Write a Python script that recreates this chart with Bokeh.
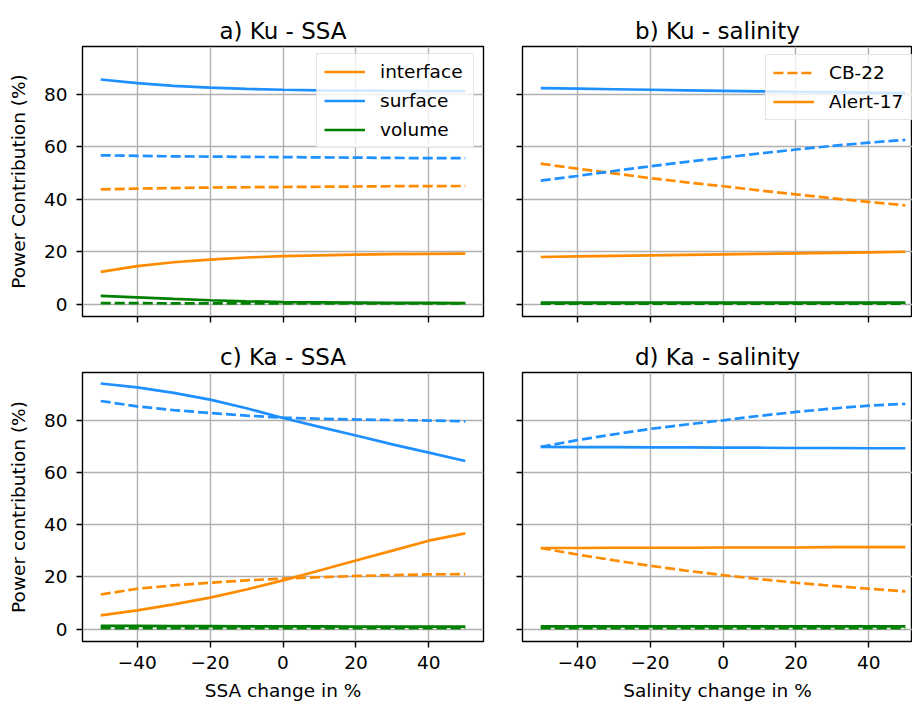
from bokeh.plotting import figure
from bokeh.layouts import column, row
from bokeh.models import Legend, LegendItem, FixedTicker, Range1d
from bokeh.embed import file_html
from bokeh.resources import INLINE

# ---------------- data ----------------
change_pct = [-50, -40, -30, -20, -10, 0, 10, 20, 30, 40, 50]

# a) Ku - SSA
ku_ssa_surface_alert = [85.7, 84.3, 83.3, 82.6, 82.1, 81.8, 81.6, 81.5, 81.4, 81.3, 81.3]
ku_ssa_surface_cb = [56.8, 56.6, 56.4, 56.3, 56.2, 56.1, 56.0, 55.9, 55.8, 55.7, 55.7]
ku_ssa_interface_cb = [43.8, 44.1, 44.3, 44.5, 44.6, 44.7, 44.8, 44.9, 45.0, 45.0, 45.1]
ku_ssa_interface_alert = [12.3, 14.5, 16.0, 17.0, 17.8, 18.3, 18.6, 18.9, 19.1, 19.2, 19.3]
ku_ssa_volume_alert = [3.2, 2.6, 2.0, 1.5, 1.1, 0.8, 0.7, 0.6, 0.5, 0.5, 0.4]
ku_ssa_volume_cb = [0.4, 0.4, 0.3, 0.3, 0.3, 0.3, 0.3, 0.3, 0.3, 0.3, 0.3]

# b) Ku - salinity
ku_sal_surface_alert = [82.4, 82.2, 82.0, 81.8, 81.6, 81.4, 81.2, 81.0, 80.9, 80.7, 80.5]
ku_sal_surface_cb = [47.1, 48.9, 50.8, 52.6, 54.3, 55.9, 57.5, 59.0, 60.4, 61.6, 62.7]
ku_sal_interface_cb = [53.6, 51.7, 49.9, 48.1, 46.5, 45.0, 43.4, 41.9, 40.4, 39.0, 37.7]
ku_sal_interface_alert = [18.0, 18.2, 18.4, 18.6, 18.8, 19.0, 19.2, 19.4, 19.6, 19.8, 20.0]
ku_sal_volume_alert = [0.6, 0.6, 0.6, 0.6, 0.6, 0.6, 0.6, 0.6, 0.6, 0.6, 0.6]
ku_sal_volume_cb = [0.2, 0.2, 0.2, 0.2, 0.2, 0.2, 0.2, 0.2, 0.2, 0.2, 0.2]

# c) Ka - SSA
ka_ssa_surface_alert = [94.1, 92.6, 90.5, 87.9, 84.6, 80.9, 77.5, 74.2, 70.8, 67.6, 64.4]
ka_ssa_surface_cb = [87.4, 85.3, 83.9, 82.8, 81.8, 81.0, 80.6, 80.3, 80.1, 79.9, 79.6]
ka_ssa_interface_alert = [5.3, 7.2, 9.5, 12.1, 15.2, 18.7, 22.5, 26.3, 30.1, 33.9, 36.7]
ka_ssa_interface_cb = [13.3, 15.5, 16.8, 17.8, 18.7, 19.4, 19.9, 20.4, 20.7, 21.0, 21.1]
ka_ssa_volume_alert = [1.3, 1.3, 1.2, 1.2, 1.1, 1.1, 1.1, 1.0, 1.0, 1.0, 1.0]
ka_ssa_volume_cb = [0.4, 0.4, 0.4, 0.4, 0.4, 0.4, 0.4, 0.4, 0.4, 0.4, 0.4]

# d) Ka - salinity
ka_sal_surface_alert = [69.8, 69.7, 69.7, 69.6, 69.6, 69.5, 69.5, 69.4, 69.4, 69.3, 69.3]
ka_sal_surface_cb = [69.8, 72.4, 74.6, 76.7, 78.4, 80.0, 81.7, 83.2, 84.5, 85.6, 86.3]
ka_sal_interface_alert = [31.1, 31.1, 31.2, 31.2, 31.2, 31.3, 31.3, 31.3, 31.4, 31.4, 31.4]
ka_sal_interface_cb = [31.1, 28.6, 26.4, 24.3, 22.4, 20.7, 19.2, 17.8, 16.6, 15.5, 14.5]
ka_sal_volume_alert = [1.1, 1.1, 1.1, 1.1, 1.1, 1.1, 1.1, 1.1, 1.1, 1.1, 1.1]
ka_sal_volume_cb = [0.4, 0.4, 0.4, 0.4, 0.4, 0.4, 0.4, 0.4, 0.4, 0.4, 0.4]

x_ticks = [-40, -20, 0, 20, 40]
y_ticks = [0, 20, 40, 60, 80]
x_tick_labels = ["\u221240", "\u221220", "0", "20", "40"]

titles = ["a) Ku - SSA", "b) Ku - salinity", "c) Ka - SSA", "d) Ka - salinity"]
y_labels = ["Power Contribution (%)", "Power contribution (%)"]
x_labels = ["SSA change in %", "Salinity change in %"]
component_names = ["interface", "surface", "volume"]
dataset_names = ["CB-22", "Alert-17"]

# ---------------- style ----------------
ORANGE = "#ff8c00"
BLUE = "#1e90ff"
GREEN = "#008000"
FONT = "DejaVu Sans"
FS = "18.5px"
LW = 2.7
DASH = "10 4"


def make_fig(title, width, height, left, right, top, bottom, xr,
             show_xlabels, show_ylabels, xlabel=None, ylabel=None):
    p = figure(width=width, height=height, output_backend="svg",
               toolbar_location=None, x_range=Range1d(*xr),
               y_range=Range1d(-4.7, 98.3), title=title,
               min_border_left=left, min_border_right=right,
               min_border_top=top, min_border_bottom=bottom)
    p.title.align = "center"
    p.title.text_font = FONT
    p.title.text_font_size = "23px"
    p.title.text_font_style = "normal"
    p.title.text_color = "#000000"
    p.title.standoff = 6
    p.outline_line_color = "#000000"
    p.outline_line_width = 1.4
    p.outline_line_alpha = 1.0
    p.background_fill_color = "white"
    p.border_fill_color = "white"
    p.grid.grid_line_color = "#b0b0b0"
    p.grid.grid_line_width = 1.4
    p.xaxis.ticker = FixedTicker(ticks=x_ticks)
    p.yaxis.ticker = FixedTicker(ticks=y_ticks)
    p.xgrid.ticker = FixedTicker(ticks=x_ticks)
    p.ygrid.ticker = FixedTicker(ticks=y_ticks)
    for ax in (p.xaxis[0], p.yaxis[0]):
        ax.axis_line_color = None
        ax.major_tick_line_color = "#000000"
        ax.major_tick_line_width = 1.4
        ax.major_tick_out = 6
        ax.major_tick_in = 0
        ax.minor_tick_line_color = None
        ax.major_label_text_font = FONT
        ax.major_label_text_font_size = FS
        ax.major_label_text_color = "#000000"
        ax.axis_label_text_font = FONT
        ax.axis_label_text_font_size = FS
        ax.axis_label_text_font_style = "normal"
        ax.axis_label_text_color = "#000000"
    if show_xlabels:
        p.xaxis.major_label_overrides = dict(zip(x_ticks, x_tick_labels))
        p.xaxis.major_label_standoff = 8
        p.xaxis.axis_label = xlabel
        p.xaxis.axis_label_standoff = 8
    else:
        p.xaxis.major_label_overrides = {t: "" for t in x_ticks}
        p.xaxis.major_label_text_font_size = "1px"
        p.xaxis.major_label_standoff = 0
    if show_ylabels:
        p.yaxis.major_label_standoff = 9
        p.yaxis.axis_label = ylabel
        p.yaxis.axis_label_standoff = 12
    else:
        p.yaxis.major_label_overrides = {t: "" for t in y_ticks}
        p.yaxis.major_label_text_font_size = "1px"
        p.yaxis.major_label_standoff = 0
    return p


def add_lines(p, series):
    rends = {}
    for key, ys, color, dashed in series:
        r = p.line(change_pct, ys, line_color=color, line_width=LW,
                   line_dash=DASH if dashed else "solid")
        rends[key] = r
    return rends


def style_legend(leg, label_width):
    leg.label_text_font = FONT
    leg.label_text_font_size = FS
    leg.label_text_color = "#000000"
    leg.glyph_width = 41
    leg.glyph_height = 21
    leg.label_height = 21
    leg.label_width = label_width
    leg.label_standoff = 15
    leg.spacing = 8
    leg.padding = 7
    leg.margin = 0
    leg.border_line_color = "#cccccc"
    leg.border_line_width = 1.2
    leg.background_fill_color = "white"
    leg.background_fill_alpha = 0.8


XR_LEFT = (-55, 55)
XR_RIGHT = (-55, 51.97)

# a)
pa = make_fig(titles[0], 497, 334, 82, 14, 46, 18, XR_LEFT, False, True, ylabel=y_labels[0])
ra = add_lines(pa, [
    ("int_cb", ku_ssa_interface_cb, ORANGE, True),
    ("surf_cb", ku_ssa_surface_cb, BLUE, True),
    ("vol_cb", ku_ssa_volume_cb, GREEN, True),
    ("int_alert", ku_ssa_interface_alert, ORANGE, False),
    ("surf_alert", ku_ssa_surface_alert, BLUE, False),
    ("vol_alert", ku_ssa_volume_alert, GREEN, False),
])
leg_a = Legend(items=[
    LegendItem(label=component_names[0], renderers=[ra["int_alert"]]),
    LegendItem(label=component_names[1], renderers=[ra["surf_alert"]]),
    LegendItem(label=component_names[2], renderers=[ra["vol_alert"]]),
], location=(234, 168))
style_legend(leg_a, 86)
pa.add_layout(leg_a)

# b)
pb = make_fig(titles[1], 415, 334, 25, 0, 46, 18, XR_RIGHT, False, False)
rb = add_lines(pb, [
    ("int_cb", ku_sal_interface_cb, ORANGE, True),
    ("surf_cb", ku_sal_surface_cb, BLUE, True),
    ("vol_cb", ku_sal_volume_cb, GREEN, True),
    ("int_alert", ku_sal_interface_alert, ORANGE, False),
    ("surf_alert", ku_sal_surface_alert, BLUE, False),
    ("vol_alert", ku_sal_volume_alert, GREEN, False),
])
leg_b = Legend(items=[
    LegendItem(label=dataset_names[0], renderers=[rb["int_cb"]]),
    LegendItem(label=dataset_names[1], renderers=[rb["int_alert"]]),
], location=(243, 196))
style_legend(leg_b, 76)
pb.add_layout(leg_b)

# c)
pc = make_fig(titles[2], 497, 369, 82, 14, 38, 61, XR_LEFT, True, True,
              xlabel=x_labels[0], ylabel=y_labels[1])
add_lines(pc, [
    ("int_cb", ka_ssa_interface_cb, ORANGE, True),
    ("surf_cb", ka_ssa_surface_cb, BLUE, True),
    ("vol_cb", ka_ssa_volume_cb, GREEN, True),
    ("int_alert", ka_ssa_interface_alert, ORANGE, False),
    ("surf_alert", ka_ssa_surface_alert, BLUE, False),
    ("vol_alert", ka_ssa_volume_alert, GREEN, False),
])

# d)
pd_ = make_fig(titles[3], 415, 369, 25, 0, 38, 61, XR_RIGHT, True, False,
               xlabel=x_labels[1])
add_lines(pd_, [
    ("int_cb", ka_sal_interface_cb, ORANGE, True),
    ("surf_cb", ka_sal_surface_cb, BLUE, True),
    ("vol_cb", ka_sal_volume_cb, GREEN, True),
    ("int_alert", ka_sal_interface_alert, ORANGE, False),
    ("surf_alert", ka_sal_surface_alert, BLUE, False),
    ("vol_alert", ka_sal_volume_alert, GREEN, False),
])

layout = column(row(pa, pb, spacing=0), row(pc, pd_, spacing=0), spacing=0)

with open("out.html", "w") as f:
    f.write(file_html(layout, INLINE))
